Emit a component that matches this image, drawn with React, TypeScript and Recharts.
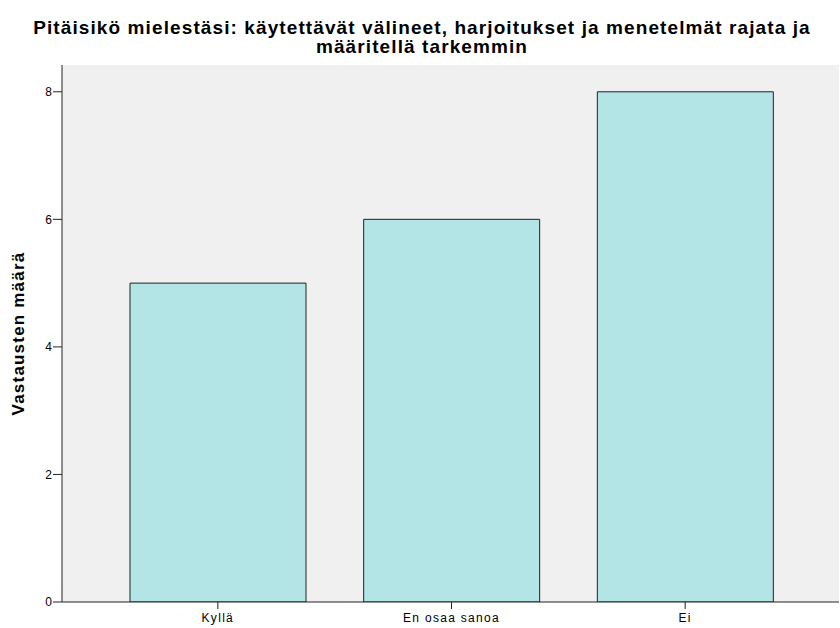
import React from 'react';
import { BarChart, Bar, XAxis, YAxis, CartesianGrid, Label } from 'recharts';

const CATEGORIES = ['Kyllä', 'En osaa sanoa', 'Ei'];
const COUNTS = [5, 6, 8];
const Y_TICKS = [0, 2, 4, 6, 8];
const TITLE_LINES = [
  'Pitäisikö mielestäsi: käytettävät välineet, harjoitukset ja menetelmät rajata ja',
  'määritellä tarkemmin',
];
const Y_LABEL = 'Vastausten määrä';

const data = CATEGORIES.map((name, i) => ({ name, count: COUNTS[i] }));

const FONT = '"Liberation Sans", Arial, sans-serif';
const tickStyle = { fontSize: 12, fill: '#000', fontFamily: FONT, letterSpacing: 1.3 };

const App: React.FC = () => {
  return (
    <div style={{ position: 'relative', width: 840, height: 628, fontFamily: FONT }}>
      <style>{`body { margin: 0; }`}</style>
      {/* Title */}
      <div
        style={{
          position: 'absolute',
          top: 18,
          left: 0,
          width: 840,
          textAlign: 'center',
          fontSize: 19,
          fontWeight: 700,
          lineHeight: '19px',
          letterSpacing: 1.1,
          color: '#000',
          paddingLeft: 4,
          boxSizing: 'border-box',
        }}
      >
        {TITLE_LINES.map((line) => (
          <div key={line}>{line}</div>
        ))}
      </div>
      <BarChart
        width={840}
        height={628}
        data={data}
        margin={{ top: 65, right: 1, bottom: 0, left: 2 }}
        barCategoryGap={29}
      >
        <CartesianGrid horizontal={false} vertical={false} fill="#f0f0f0" stroke="none" />
        <XAxis
          dataKey="name"
          height={26}
          padding={{ left: 39, right: 37 }}
          axisLine={{ stroke: '#222', strokeWidth: 1 }}
          tickLine={{ stroke: '#222' }}
          tickSize={7}
          tickMargin={4}
          tick={tickStyle}
        />
        <XAxis
          xAxisId="top"
          orientation="top"
          dataKey="name"
          height={0}
          tick={false}
          tickLine={false}
          axisLine={{ stroke: '#999', strokeWidth: 1 }}
        />
        <YAxis
          width={60}
          domain={[0, 8.42]}
          ticks={Y_TICKS}
          allowDataOverflow
          axisLine={{ stroke: '#222', strokeWidth: 1 }}
          tickLine={{ stroke: '#222' }}
          tickSize={9}
          tickMargin={1}
          tick={{ ...tickStyle, letterSpacing: 0 }}
        >
          <Label
            value={Y_LABEL}
            angle={-90}
            position="insideLeft"
            offset={16}
            style={{
              textAnchor: 'middle',
              fontSize: 17,
              fontWeight: 700,
              letterSpacing: 1.2,
              fill: '#000',
              fontFamily: FONT,
            }}
          />
        </YAxis>
        <YAxis
          yAxisId="right"
          orientation="right"
          width={0}
          domain={[0, 8.42]}
          tick={false}
          tickLine={false}
          axisLine={{ stroke: '#999', strokeWidth: 1 }}
        />
        <Bar
          dataKey="count"
          fill="#b3e5e6"
          stroke="#222"
          strokeWidth={1}
          isAnimationActive={false}
        />
      </BarChart>
    </div>
  );
};

export default App;
